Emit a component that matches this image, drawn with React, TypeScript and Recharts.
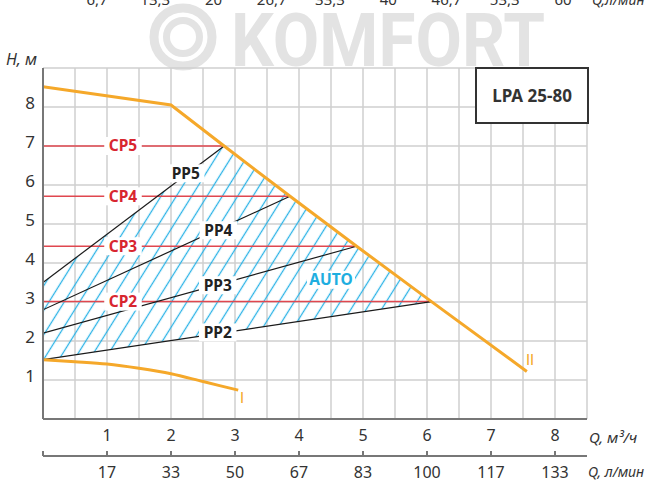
import React from 'react';
import {
  ComposedChart,
  Line,
  Area,
  XAxis,
  YAxis,
  CartesianGrid,
  ReferenceDot,
} from 'recharts';

// flow axis (m³/h) and head axis (m)
const Q_TICKS = [0, 0.5, 1, 1.5, 2, 2.5, 3, 3.5, 4, 4.5, 5, 5.5, 6, 6.5, 7, 7.5, 8, 8.5];
const Q_LABEL_TICKS = [0, 1, 2, 3, 4, 5, 6, 7, 8];
const LMIN_LABELS = ['', '17', '33', '50', '67', '83', '100', '117', '133'];
const H_TICKS = [0, 1, 2, 3, 4, 5, 6, 7, 8, 9];
const TOP_CUT_LABELS = ['6,7', '13,3', '20', '26,7', '33,3', '40', '46,7', '53,3', '60'];

// max curve II and min curve I
const curveII = [
  { q: 0, h: 8.52 },
  { q: 2, h: 8.05 },
  { q: 2.83, h: 7.0 },
  { q: 3.86, h: 5.71 },
  { q: 4.9, h: 4.43 },
  { q: 6.07, h: 3.01 },
  { q: 7.56, h: 1.22 },
];
const curveI = [
  { q: 0, h: 1.52 },
  { q: 0.5, h: 1.47 },
  { q: 1, h: 1.41 },
  { q: 1.5, h: 1.3 },
  { q: 2, h: 1.16 },
  { q: 2.5, h: 0.96 },
  { q: 3.05, h: 0.74 },
];

// proportional pressure lines
const pp5 = [{ q: 0, h: 3.5 }, { q: 2.83, h: 7.0 }];
const pp4 = [{ q: 0, h: 2.8 }, { q: 3.86, h: 5.71 }];
const pp3 = [{ q: 0, h: 2.2 }, { q: 4.9, h: 4.43 }];
const pp2 = [{ q: 0, h: 1.52 }, { q: 6.07, h: 3.01 }];

// constant pressure lines
const cp5 = [{ q: 0, h: 7.0 }, { q: 2.83, h: 7.0 }];
const cp4 = [{ q: 0, h: 5.71 }, { q: 3.86, h: 5.71 }];
const cp3 = [{ q: 0, h: 4.43 }, { q: 4.9, h: 4.43 }];
const cp2 = [{ q: 0, h: 3.01 }, { q: 6.07, h: 3.01 }];

// AUTO zone (between PP2 and PP5 / curve II)
const autoZone = [
  { q: 0, band: [1.52, 3.5] },
  { q: 2.83, band: [2.22, 7.0] },
  { q: 6.07, band: [3.01, 3.01] },
];

const tags = [
  { text: 'CP5', q: 1.25, h: 7.0, color: '#d8262f' },
  { text: 'CP4', q: 1.25, h: 5.71, color: '#d8262f' },
  { text: 'CP3', q: 1.25, h: 4.43, color: '#d8262f' },
  { text: 'CP2', q: 1.25, h: 3.01, color: '#d8262f' },
  { text: 'PP5', q: 2.23, h: 6.3, color: '#222' },
  { text: 'PP4', q: 2.74, h: 4.84, color: '#222' },
  { text: 'PP3', q: 2.73, h: 3.43, color: '#222' },
  { text: 'PP2', q: 2.73, h: 2.22, color: '#222' },
  { text: 'AUTO', q: 4.5, h: 3.57, color: '#1eaee0' },
  { text: 'I', q: 3.11, h: 0.54, color: '#f5a82a', plain: true },
  { text: 'II', q: 7.61, h: 1.52, color: '#f5a82a', plain: true },
];

const FONT = '"Noto Sans", sans-serif';
const ORANGE = '#f5a82a';
const RED = '#e0474f';
const AXIS = '#777';

const Tag = (props: any) => {
  const { cx, cy, text, color, plain } = props;
  const w = text.length * 10.5 + 6;
  return (
    <g>
      {!plain && <rect x={cx - w / 2} y={cy - 9} width={w} height={18} fill="#fff" />}
      <text
        x={cx}
        y={cy}
        dy="0.35em"
        textAnchor="middle"
        fill={color}
        fontFamily={plain ? 'Roboto, sans-serif' : FONT}
        fontWeight={plain ? 'normal' : 'bold'}
        fontSize={plain ? 15 : 15.5}
      >
        {text}
      </text>
    </g>
  );
};

const QTick = (props: any) => {
  const { x, y, payload } = props;
  const v = payload.value;
  if (!Q_LABEL_TICKS.includes(v) || v === 0) return <g />;
  return (
    <text x={x} y={y + 14} textAnchor="middle" fill="#333" fontFamily={FONT} fontSize={16}>
      {v}
    </text>
  );
};

const LminTick = (props: any) => {
  const { x, y, payload } = props;
  const i = Q_LABEL_TICKS.indexOf(payload.value);
  return (
    <g>
      <line x1={x} x2={x} y1={y - 8} y2={y - 13} stroke={AXIS} strokeWidth={2} />
      <text x={x} y={y + 14} textAnchor="middle" fill="#333" fontFamily={FONT} fontSize={16}>
        {LMIN_LABELS[i]}
      </text>
    </g>
  );
};

const HTick = (props: any) => {
  const { x, y, payload } = props;
  const v = payload.value;
  if (v < 1 || v > 8) return <g />;
  return (
    <text x={x} y={y - 4} dy="0.35em" textAnchor="end" fill="#333" fontFamily={FONT} fontSize={17}>
      {v}
    </text>
  );
};

const Backdrop = () => (
  <svg width={650} height={482} style={{ position: 'absolute', left: 0, top: 0 }}>
    <circle cx={183} cy={37} r={29} fill="none" stroke="#e3e3e3" strokeWidth={9} />
    <circle cx={183} cy={37} r={16.5} fill="none" stroke="#e3e3e3" strokeWidth={7} />
    <text
      x={231}
      y={66}
      fontFamily='Roboto, sans-serif'
      fontWeight="bold"
      fontSize={74}
      fill="#e3e3e3"
      textLength={314}
      lengthAdjust="spacingAndGlyphs"
    >
      KOMFORT
    </text>
    {TOP_CUT_LABELS.map((t, i) => (
      <text key={t} x={97 + i * 58.25} y={5} textAnchor="middle" fill="#333" fontFamily={FONT} fontSize={15}>
        {t}
      </text>
    ))}
    <text x={592} y={5} fill="#333" fontFamily={FONT} fontSize={14} fontStyle="italic">
      Q,л/мин
    </text>
  </svg>
);

export default function App() {
  return (
    <div style={{ position: 'absolute', left: 0, top: 0, width: 650, height: 482, background: '#fff' }}>
      <Backdrop />
      <div style={{ position: 'absolute', left: 0, top: 0 }}>
        <ComposedChart width={650} height={482} margin={{ top: 68, right: 63, bottom: 0, left: 8 }}>
          <defs>
            <pattern id="hatch" patternUnits="userSpaceOnUse" width={13} height={13} patternTransform="rotate(32)">
              <line x1={6.5} y1={0} x2={6.5} y2={13} stroke="#2bb3e6" strokeWidth={1.3} />
            </pattern>
          </defs>
          <CartesianGrid xAxisId="a_flow" stroke="#cfcfcf" strokeWidth={1.5} />
          <XAxis
            xAxisId="a_flow"
            type="number"
            dataKey="q"
            domain={[0, 8.5]}
            ticks={Q_TICKS}
            interval={0}
            tick={<QTick />}
            tickLine={false}
            axisLine={{ stroke: AXIS, strokeWidth: 2 }}
            height={37}
            allowDataOverflow
            label={{
              value: 'Q, м³/ч',
              position: 'right',
              offset: 2,
              dy: 0,
              fill: '#333',
              fontSize: 15,
              fontStyle: 'italic',
              fontFamily: FONT,
            }}
          />
          <XAxis
            xAxisId="b_lmin"
            type="number"
            dataKey="q"
            domain={[0, 8.5]}
            ticks={Q_LABEL_TICKS}
            interval={0}
            tick={<LminTick />}
            tickLine={false}
            axisLine={{ stroke: AXIS, strokeWidth: 2 }}
            height={26}
            allowDataOverflow
            label={{
              value: 'Q, л/мин',
              position: 'right',
              offset: 1,
              dy: 3,
              fill: '#333',
              fontSize: 14,
              fontStyle: 'italic',
              fontFamily: FONT,
            }}
          />
          <YAxis
            type="number"
            domain={[0, 9]}
            ticks={H_TICKS}
            interval={0}
            tick={<HTick />}
            tickLine={false}
            axisLine={{ stroke: AXIS, strokeWidth: 2 }}
            width={35}
            label={{
              value: 'H, м',
              position: 'top',
              offset: 3,
              dx: -4,
              fill: '#333',
              fontSize: 16,
              fontStyle: 'italic',
              fontFamily: FONT,
            }}
          />
          {/* invisible series so the l/min axis gets its scale */}
          <Line
            xAxisId="b_lmin"
            data={curveII}
            dataKey="h"
            stroke="none"
            dot={false}
            activeDot={false}
            isAnimationActive={false}
          />
          <Area
            xAxisId="a_flow"
            data={autoZone}
            dataKey="band"
            type="linear"
            stroke="none"
            fill="url(#hatch)"
            fillOpacity={1}
            isAnimationActive={false}
          />
          {[cp5, cp4, cp3, cp2].map((d, i) => (
            <Line
              key={`cp${i}`}
              xAxisId="a_flow"
              data={d}
              dataKey="h"
              stroke={RED}
              strokeWidth={1.5}
              dot={false}
              isAnimationActive={false}
            />
          ))}
          {[pp5, pp4, pp3, pp2].map((d, i) => (
            <Line
              key={`pp${i}`}
              xAxisId="a_flow"
              data={d}
              dataKey="h"
              stroke="#1a1a1a"
              strokeWidth={1.2}
              dot={false}
              isAnimationActive={false}
            />
          ))}
          <Line
            xAxisId="a_flow"
            data={curveI}
            dataKey="h"
            type="monotone"
            stroke={ORANGE}
            strokeWidth={3}
            dot={false}
            isAnimationActive={false}
          />
          <Line
            xAxisId="a_flow"
            data={curveII}
            dataKey="h"
            type="linear"
            stroke={ORANGE}
            strokeWidth={3}
            dot={false}
            isAnimationActive={false}
          />
          {tags.map((t) => (
            <ReferenceDot
              key={t.text}
              xAxisId="a_flow"
              x={t.q}
              y={t.h}
              r={0}
              ifOverflow="visible"
              shape={(p: any) => <Tag {...p} text={t.text} color={t.color} plain={t.plain} />}
            />
          ))}
        </ComposedChart>
      </div>
      <div
        style={{
          position: 'absolute',
          left: 475,
          top: 67,
          width: 110,
          height: 53,
          border: '2px solid #333',
          background: '#fff',
          display: 'flex',
          alignItems: 'center',
          justifyContent: 'center',
          fontFamily: FONT,
          fontWeight: 'bold',
          fontSize: 17,
          color: '#333',
        }}
      >
        LPA 25-80
      </div>
    </div>
  );
}
